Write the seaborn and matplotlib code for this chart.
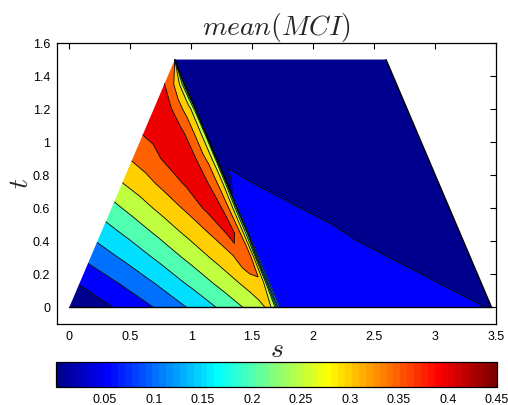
import numpy as np
import matplotlib
matplotlib.use("Agg")
import matplotlib.pyplot as plt
import seaborn as sns
from matplotlib.colors import ListedColormap, Normalize
from matplotlib.cm import ScalarMappable

# ---------------- data ----------------
TITLE = r"$mean(MCI)$"
X_LABEL = r"$s$"
Y_LABEL = r"$t$"
LEVELS = [0.05, 0.10, 0.15, 0.20, 0.25, 0.30, 0.35, 0.40, 0.45]
CBAR_TICKS = [0.05, 0.10, 0.15, 0.20, 0.25, 0.30, 0.35, 0.40, 0.45]
CBAR_LABELS = ["0.05", "0.1", "0.15", "0.2", "0.25", "0.3", "0.35", "0.4", "0.45"]
X_TICKS = [0, 0.5, 1, 1.5, 2, 2.5, 3, 3.5]
X_LABELS = ["0", "0.5", "1", "1.5", "2", "2.5", "3", "3.5"]
Y_TICKS = [0, 0.2, 0.4, 0.6, 0.8, 1.0, 1.2, 1.4, 1.6]
Y_LABELS = ["0", "0.2", "0.4", "0.6", "0.8", "1", "1.2", "1.4", "1.6"]

# domain: left triangle + right parallelogram of side sqrt(3), height 1.5
SIDE = np.sqrt(3.0)

# left triangle: rows = t, cols = r (fraction across the triangle at height t)
LEFT_T = [0.0, 0.15, 0.3, 0.45, 0.6, 0.75, 0.9, 1.05, 1.2, 1.35, 1.5]
LEFT_R = [0.0, 0.2, 0.4, 0.6, 0.75, 0.85, 0.88, 0.91, 0.95, 0.975, 0.99, 1.0]
LEFT_V = [
    [0.000, 0.048, 0.100, 0.164, 0.220, 0.261, 0.274, 0.288, 0.315, 0.250, 0.130, 0.090],
    [0.054, 0.100, 0.153, 0.216, 0.268, 0.305, 0.316, 0.328, 0.347, 0.280, 0.140, 0.085],
    [0.113, 0.157, 0.208, 0.266, 0.313, 0.345, 0.372, 0.390, 0.360, 0.280, 0.140, 0.083],
    [0.172, 0.214, 0.262, 0.314, 0.356, 0.402, 0.420, 0.395, 0.340, 0.270, 0.200, 0.080],
    [0.233, 0.273, 0.315, 0.360, 0.410, 0.412, 0.395, 0.370, 0.320, 0.260, 0.180, 0.065],
    [0.298, 0.329, 0.365, 0.405, 0.430, 0.385, 0.370, 0.345, 0.310, 0.265, 0.220, 0.040],
    [0.355, 0.379, 0.410, 0.425, 0.400, 0.355, 0.345, 0.325, 0.290, 0.260, 0.220, 0.025],
    [0.402, 0.415, 0.420, 0.412, 0.380, 0.330, 0.320, 0.305, 0.275, 0.250, 0.200, 0.020],
    [0.420, 0.420, 0.405, 0.370, 0.335, 0.310, 0.300, 0.285, 0.255, 0.235, 0.180, 0.020],
    [0.401, 0.392, 0.360, 0.320, 0.295, 0.250, 0.240, 0.220, 0.150, 0.080, 0.040, 0.020],
    [0.380, 0.380, 0.360, 0.320, 0.295, 0.250, 0.240, 0.220, 0.150, 0.080, 0.040, 0.020],
]

# right parallelogram: rows = t, cols = q (fraction across at height t)
RIGHT_T = [0.0, 0.25, 0.5, 0.75, 1.0, 1.5]
RIGHT_Q = [0.0, 0.035, 0.25, 0.5, 0.75, 1.0]
RIGHT_V = [
    [0.090, 0.089, 0.085, 0.075, 0.065, 0.048],
    [0.085, 0.084, 0.075, 0.062, 0.045, 0.035],
    [0.080, 0.078, 0.065, 0.042, 0.035, 0.030],
    [0.040, 0.058, 0.038, 0.030, 0.025, 0.020],
    [0.030, 0.035, 0.025, 0.020, 0.020, 0.020],
    [0.020, 0.020, 0.020, 0.020, 0.020, 0.020],
]

# ---------------- style ----------------
sns.set_style("white")
plt.rcParams["font.family"] = ["Liberation Sans", "DejaVu Sans"]
plt.rcParams["mathtext.fontset"] = "cm"

# MATLAB-like jet(64)
k = np.arange(1, 65)
R = np.clip(np.minimum((k - 24) / 16, 1 - (k - 56) / 16), 0, 1)
G = np.clip(np.minimum((k - 8) / 16, 1 - (k - 40) / 16), 0, 1)
B = np.clip(np.minimum(0.5 + k / 16, 1 - (k - 24) / 16), 0, 1)
JET64 = np.stack([R, G, B], axis=1)
CMAP = ListedColormap(JET64)
VMIN, VMAX = 0.0, 0.45

lower = [VMIN] + LEVELS
fill_colors = [JET64[min(int(np.floor((v - VMIN) / (VMAX - VMIN) * 64)), 63)] for v in lower]
fill_levels = [-1.0] + LEVELS + [1.0]

# ---------------- grids ----------------
tl, rl = np.meshgrid(np.array(LEFT_T), np.array(LEFT_R), indexing="ij")
S_left = tl / SIDE + rl * (SIDE - 2 * tl / SIDE)
T_left = tl
Z_left = np.array(LEFT_V)

tr, qr = np.meshgrid(np.array(RIGHT_T), np.array(RIGHT_Q), indexing="ij")
S_right = (SIDE - tr / SIDE) + qr * SIDE
T_right = tr
Z_right = np.array(RIGHT_V)

# ---------------- figure ----------------
fig = plt.figure(figsize=(5.08, 4.05), dpi=100)
ax = fig.add_axes([57 / 508, 1 - 324 / 405, (496 - 57) / 508, (324 - 43) / 405])

for S, T, Z in [(S_right, T_right, Z_right), (S_left, T_left, Z_left)]:
    ax.contourf(S, T, Z, levels=fill_levels, colors=fill_colors, antialiased=True)
    ax.contour(S, T, Z, levels=LEVELS, colors="k", linewidths=0.6)

# domain outline (bottom and right edges), as in the reference
ax.plot([S_left[0, 0], S_right[0, -1]], [0, 0], color="k", lw=1.0)
ax.plot(S_right[:, -1], T_right[:, -1], color="k", lw=1.0)

ax.set_xlim(-0.1, 3.5)
ax.set_ylim(-0.1, 1.6)
ax.set_xticks(X_TICKS)
ax.set_xticklabels(X_LABELS)
ax.set_yticks(Y_TICKS)
ax.set_yticklabels(Y_LABELS)
ax.tick_params(direction="in", top=True, right=True, length=4, width=0.8,
               labelsize=9, pad=5, colors="k")
for sp in ax.spines.values():
    sp.set_linewidth(0.9)
    sp.set_color("k")

ax.set_title(TITLE, fontsize=20, pad=6)
ax.set_xlabel(X_LABEL, fontsize=20, labelpad=-4)
ax.set_ylabel(Y_LABEL, fontsize=20, labelpad=-1)

# colorbar
cax = fig.add_axes([56 / 508, 1 - 386.7 / 405, (496.7 - 56) / 508, 25 / 405])
sm = ScalarMappable(norm=Normalize(VMIN, VMAX), cmap=CMAP)
cb = fig.colorbar(sm, cax=cax, orientation="horizontal")
cb.set_ticks(CBAR_TICKS)
cb.set_ticklabels(CBAR_LABELS)
cax.tick_params(direction="in", top=True, bottom=True, length=3, width=0.8,
                labelsize=9, pad=5, colors="k")
cb.outline.set_linewidth(0.9)
cb.outline.set_edgecolor("k")

fig.savefig("out.png", dpi=100)
